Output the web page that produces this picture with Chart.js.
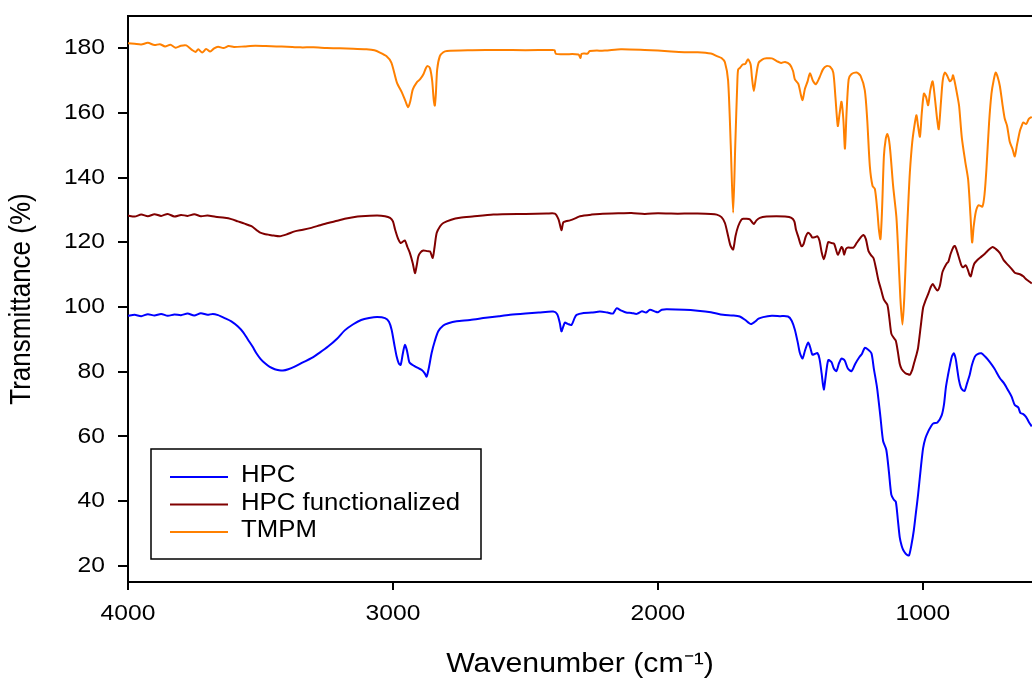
<!DOCTYPE html>
<html><head><meta charset="utf-8">
<script src="https://cdn.jsdelivr.net/npm/chart.js@4/dist/chart.umd.min.js"></script>
<style>html,body{margin:0;padding:0;background:#fff;overflow:hidden}#wrap{width:1032px;height:678px}</style>
</head><body><div id="wrap"><canvas id="c" width="1032" height="678"></canvas></div>
<script>
// ---- data (wavenumber cm-1 / transmittance %) ----
const seriesLabels = ['HPC', 'HPC functionalized', 'TMPM'];
const xTicks = [4000, 3000, 2000, 1000];
const yTicks = [20, 40, 60, 80, 100, 120, 140, 160, 180];

const hpcWave = [4000,3975,3950,3925,3900,3875,3850,3825,3800,3775,3750,3725,3700,3680,3660,3635,3610,3585,3565,3547,3530,3516,3500,3484,3465,3446,3430,3415,3395,3371,3340,3308,3275,3245,3210,3182,3150,3120,3090,3060,3030,3015,3005,2995,2986,2978,2971,2963,2955,2947,2940,2936,2920,2904,2890,2880,2873,2865,2854,2842,2829,2810,2791,2760,2709,2650,2600,2558,2500,2450,2395,2380,2370,2364,2357,2351,2340,2326,2315,2307,2280,2250,2219,2190,2170,2156,2140,2120,2100,2080,2060,2045,2030,2010,2000,1985,1965,1900,1850,1800,1754,1720,1691,1670,1655,1647,1635,1620,1603,1570,1540,1509,1495,1483,1472,1464,1454,1445,1433,1425,1417,1408,1398,1390,1382,1374,1366,1357,1345,1336,1326,1317,1307,1295,1283,1269,1255,1240,1230,1219,1206,1194,1185,1173,1160,1150,1138,1128,1119,1110,1102,1094,1087,1080,1074,1065,1058,1052,1043,1034,1026,1018,1008,999,990,980,970,961,945,929,920,913,905,898,890,883,876,870,864,856,848,842,833,823,815,804,795,779,765,747,730,709,694,677,665,653,640,632,621,610,600,589];
const hpcT = [97.3,97.6,97.2,97.8,97.4,97.9,97.3,97.7,97.5,98.0,97.4,98.1,97.6,97.9,97.5,96.6,95.6,94.0,92.2,89.9,87.8,85.8,84.0,82.7,81.5,80.8,80.5,80.4,80.8,81.6,82.9,84.2,86.0,87.8,90.3,92.8,94.7,96.0,96.6,96.9,96.6,95.5,93.0,88.5,84.7,82.6,82.1,85.5,88.3,86.5,83.5,82.7,81.8,81.1,80.5,79.5,78.5,81.0,85.8,89.5,92.5,94.3,95.0,95.6,96.0,96.7,97.2,97.6,98.0,98.3,98.6,97.8,95.0,92.5,94.0,95.2,94.8,94.5,96.5,97.6,98.2,98.3,98.6,98.3,98.0,99.6,99.0,98.3,98.2,97.9,98.7,98.3,99.2,98.6,98.4,99.2,99.3,99.2,98.9,98.4,97.6,97.4,97.1,96.0,95.0,94.8,95.4,96.4,96.9,97.3,97.2,97.1,95.8,93.0,89.0,85.8,84.1,86.5,89.0,87.5,85.3,85.5,85.8,84.0,79.5,74.5,79.0,83.6,83.0,81.0,80.2,82.5,84.1,83.5,81.0,80.2,82.5,84.5,85.5,87.4,86.8,85.7,81.0,75.2,66.0,58.6,55.9,49.0,42.0,40.5,39.8,34.0,28.7,26.2,24.9,23.8,23.3,23.2,26.5,31.0,36.5,42.0,50.0,56.4,59.5,61.5,63.0,64.0,64.3,66.5,70.0,75.2,79.0,81.9,84.8,85.7,84.0,80.7,77.5,75.0,74.2,74.1,76.5,79.1,82.0,84.6,85.4,85.7,84.7,83.0,81.0,78.0,76.5,74.1,72.3,69.7,69.0,67.3,66.9,66.0,64.5,63.1];

const funcWave = [4000,3975,3950,3925,3900,3875,3850,3825,3800,3775,3750,3725,3700,3670,3635,3610,3585,3560,3534,3515,3503,3485,3471,3450,3427,3400,3371,3340,3308,3275,3245,3210,3182,3150,3120,3060,3030,3011,3000,2992,2980,2971,2963,2955,2945,2936,2925,2917,2910,2904,2895,2885,2870,2860,2850,2843,2835,2822,2810,2780,2747,2700,2621,2500,2420,2389,2375,2364,2357,2345,2332,2310,2294,2250,2219,2150,2100,2050,2000,1950,1900,1850,1800,1778,1760,1747,1735,1726,1716,1707,1697,1685,1678,1665,1653,1645,1638,1628,1615,1590,1553,1520,1496,1485,1479,1470,1462,1458,1450,1442,1433,1425,1417,1408,1398,1390,1382,1374,1366,1357,1345,1335,1321,1313,1307,1302,1297,1290,1282,1262,1250,1243,1234,1224,1215,1205,1195,1186,1177,1168,1158,1147,1134,1127,1119,1110,1102,1094,1087,1080,1074,1065,1058,1049,1040,1034,1025,1018,1008,999,990,980,970,963,955,945,936,927,921,910,904,895,885,879,870,863,855,848,838,830,824,819,813,806,795,779,765,750,737,725,709,695,677,665,653,640,630,621,610,600,589];
const funcT = [128.3,128.0,128.6,128.1,128.7,128.2,128.8,128.0,128.5,128.2,128.7,128.1,128.3,127.9,127.6,127.2,126.5,125.8,125.0,123.8,123.1,122.6,122.4,122.1,121.9,122.5,123.4,123.9,124.5,125.3,126.0,126.7,127.3,127.8,128.1,128.3,128.1,127.6,126.5,124.0,121.0,119.8,120.2,120.6,118.5,116.7,113.5,110.5,113.0,115.7,117.0,117.5,117.3,117.2,115.2,118.5,122.9,125.0,126.0,127.0,127.6,128.0,128.6,128.8,128.9,128.9,127.1,123.8,126.2,126.6,126.8,127.5,128.1,128.6,128.8,129.0,129.1,128.8,129.0,128.9,128.9,128.9,128.8,128.6,127.8,126.0,122.0,119.0,117.8,122.0,125.0,127.0,127.3,127.3,127.1,126.3,125.7,126.8,127.6,128.0,128.1,128.0,127.6,126.5,124.0,121.7,119.5,118.8,119.5,121.8,123.0,122.5,121.5,121.6,121.9,120.5,117.0,114.8,117.0,120.1,119.8,119.6,116.2,117.5,118.6,118.0,116.2,118.0,118.4,118.4,119.8,120.6,121.6,122.3,121.0,117.3,116.0,115.1,112.0,108.4,105.5,102.3,100.7,97.0,91.8,90.5,89.6,86.0,82.4,80.8,80.2,79.5,79.3,79.1,80.6,82.4,85.0,87.4,94.0,99.8,102.0,104.0,106.2,107.1,106.2,105.1,106.5,110.5,111.8,113.5,114.0,116.5,118.5,118.9,117.0,115.1,113.0,112.3,112.9,111.5,110.0,109.5,111.5,113.4,114.5,115.6,116.6,117.8,118.6,118.0,116.7,114.5,112.9,111.8,110.6,110.3,110.0,109.5,108.6,108.0,107.3];

const tmpmWave = [4000,3975,3950,3925,3900,3880,3860,3840,3820,3800,3780,3760,3745,3735,3720,3705,3690,3675,3660,3640,3620,3600,3560,3520,3480,3440,3400,3350,3300,3250,3200,3150,3100,3070,3049,3025,3006,2985,2966,2952,2943,2935,2925,2910,2898,2885,2875,2868,2860,2852,2846,2842,2838,2833,2823,2810,2796,2700,2600,2500,2400,2390,2385,2350,2300,2292,2288,2265,2257,2200,2140,2050,2000,1950,1900,1850,1800,1777,1760,1747,1735,1725,1716,1708,1700,1697,1690,1680,1670,1660,1650,1645,1638,1630,1620,1605,1590,1570,1550,1535,1520,1502,1490,1483,1470,1460,1454,1445,1435,1426,1415,1404,1390,1377,1364,1350,1338,1330,1321,1314,1307,1300,1294,1288,1280,1270,1250,1235,1219,1210,1200,1190,1181,1172,1166,1160,1154,1147,1140,1134,1125,1112,1100,1093,1085,1077,1070,1062,1055,1049,1040,1030,1024,1018,1011,1004,996,988,980,972,963,955,946,940,932,925,917,908,898,890,886,878,870,863,853,840,829,820,814,808,800,790,775,767,760,750,741,733,725,717,709,700,691,682,672,662,653,645,634,627,621,610,600,589];
const tmpmT = [181.6,181.4,181.2,181.7,181.0,181.3,180.6,181.1,180.2,180.8,180.9,179.6,178.9,179.7,178.7,179.8,179.0,180.0,180.5,180.1,180.7,180.4,180.6,180.8,180.7,180.6,180.5,180.3,180.3,180.1,180.0,179.9,179.7,179.4,178.7,177.6,175.6,169.4,166.3,163.5,161.8,163.5,167.3,169.5,170.4,172.0,174.0,174.5,173.8,170.0,164.0,162.3,166.0,173.5,177.6,178.8,179.2,179.4,179.5,179.4,179.5,179.4,178.3,178.2,178.1,177.0,178.3,178.4,179.2,179.3,179.7,179.5,179.3,179.0,178.8,178.8,178.4,177.6,177.0,175.7,170.0,150.0,129.2,150.0,170.0,173.5,174.0,175.0,175.2,176.6,175.0,171.0,166.8,171.0,175.5,176.6,176.9,176.9,176.0,175.5,175.8,175.0,173.0,170.4,169.0,165.5,164.0,167.5,169.8,172.3,170.0,168.9,171.0,173.5,174.5,174.3,172.5,165.0,156.0,160.0,163.5,158.0,149.0,160.0,170.4,172.0,172.5,171.5,167.0,158.0,143.5,137.5,136.5,130.0,124.0,121.0,130.0,146.6,152.0,153.5,150.0,137.3,128.0,117.3,103.0,94.6,103.0,119.6,132.0,141.6,151.0,157.0,159.3,156.0,152.7,160.0,166.0,165.0,162.4,167.0,169.8,165.0,158.0,155.0,163.0,170.0,172.5,171.5,169.8,170.5,171.7,169.0,165.5,162.1,152.5,145.0,139.4,128.0,120.0,125.0,129.5,131.5,131.1,135.0,142.7,157.0,166.0,170.0,172.5,171.0,168.2,163.0,158.3,156.0,151.1,149.0,146.6,150.0,154.4,156.0,157.1,156.6,158.2,158.8];

const seriesColors = ['#0000FF', '#800000', '#FF8000'];

// ---- horizontal text stretch to mimic the reference's glyph proportions ----
const SX = 1.12;
const origFill = CanvasRenderingContext2D.prototype.fillText;
CanvasRenderingContext2D.prototype.fillText = function (t, x, y, mw) {
  const m = this.getTransform();
  this.save();
  this.translate(x, y);
  if (Math.abs(m.b) < 1e-6 && Math.abs(m.c) < 1e-6) this.scale(SX, 1); else this.scale(1, SX);
  if (mw === undefined) origFill.call(this, t, 0, 0); else origFill.call(this, t, 0, 0, mw);
  this.restore();
};

const FONT = '"Liberation Sans", Arial, sans-serif';
const toPts = (xs, ys) => xs.map((w, i) => ({ x: w, y: ys[i] }));

const framePlugin = {
  id: 'frameTop',
  afterDraw(chart) {
    const { ctx, chartArea: a } = chart;
    ctx.save();
    ctx.strokeStyle = '#000';
    ctx.lineWidth = 2;
    ctx.beginPath();
    ctx.moveTo(a.left - 1, a.top);
    ctx.lineTo(a.right, a.top);
    ctx.stroke();
    ctx.restore();
  }
};

const legendPlugin = {
  id: 'boxLegend',
  afterDraw(chart) {
    const { ctx, chartArea: a } = chart;
    const x0 = a.left + 23, y1 = a.bottom - 23, w = 330, h = 110, y0 = y1 - h;
    ctx.save();
    ctx.strokeStyle = '#000';
    ctx.lineWidth = 1.5;
    ctx.strokeRect(x0, y0, w, h);
    chart.data.datasets.forEach((ds, i) => {
      const y = y0 + 28 + i * 27.5;
      ctx.strokeStyle = ds.borderColor;
      ctx.lineWidth = 2;
      ctx.beginPath();
      ctx.moveTo(x0 + 19, y);
      ctx.lineTo(x0 + 77, y);
      ctx.stroke();
      ctx.fillStyle = '#000';
      ctx.font = '23px ' + FONT;
      ctx.textAlign = 'left';
      ctx.textBaseline = 'middle';
      ctx.fillText(ds.label, x0 + 90, y - 1);
    });
    ctx.restore();
  }
};

const datasets = [
  { label: seriesLabels[0], data: toPts(hpcWave, hpcT), borderColor: seriesColors[0], order: 3 },
  { label: seriesLabels[1], data: toPts(funcWave, funcT), borderColor: seriesColors[1], order: 2 },
  { label: seriesLabels[2], data: toPts(tmpmWave, tmpmT), borderColor: seriesColors[2], order: 1 }
].map(d => Object.assign(d, { borderWidth: 2, pointRadius: 0, fill: false, tension: 0.25, backgroundColor: d.borderColor }));

new Chart(document.getElementById('c'), {
  type: 'line',
  data: { datasets },
  plugins: [framePlugin, legendPlugin],
  options: {
    responsive: false,
    animation: false,
    devicePixelRatio: 1,
    layout: { padding: { top: 16, right: 0, bottom: 0, left: 0 } },
    plugins: { legend: { display: false }, tooltip: { enabled: false } },
    scales: {
      x: {
        type: 'linear', position: 'bottom', reverse: true, min: 588, max: 4000,
        afterBuildTicks: s => { s.ticks = xTicks.map(v => ({ value: v })); },
        afterFit: s => { s.height = 96; s.paddingLeft = 0; s.paddingRight = 0; },
        grid: { drawOnChartArea: false, drawTicks: true, tickLength: 8, color: '#000', lineWidth: 2 },
        border: { display: true, color: '#000', width: 2 },
        ticks: { color: '#000', font: { family: FONT, size: 22 }, padding: 11, maxRotation: 0, autoSkip: false, callback: v => String(v) },
        title: { display: true, text: 'Wavenumber (cm⁻¹)', color: '#000', font: { family: FONT, size: 27 }, padding: { top: 0, bottom: -3 } }
      },
      y: {
        type: 'linear', position: 'left', min: 15, max: 190,
        afterBuildTicks: s => { s.ticks = yTicks.map(v => ({ value: v })); },
        afterFit: s => { s.width = 128; s.paddingTop = 0; s.paddingBottom = 0; },
        grid: { drawOnChartArea: false, drawTicks: true, tickLength: 10, color: '#000', lineWidth: 2 },
        border: { display: true, color: '#000', width: 2 },
        ticks: { color: '#000', font: { family: FONT, size: 22 }, padding: 13, autoSkip: false, callback: v => String(v) },
        title: { display: true, text: 'Transmittance (%)', color: '#000', font: { family: FONT, size: 26 }, padding: { top: 6, bottom: 0 } }
      }
    }
  }
});
</script>
</body></html>
